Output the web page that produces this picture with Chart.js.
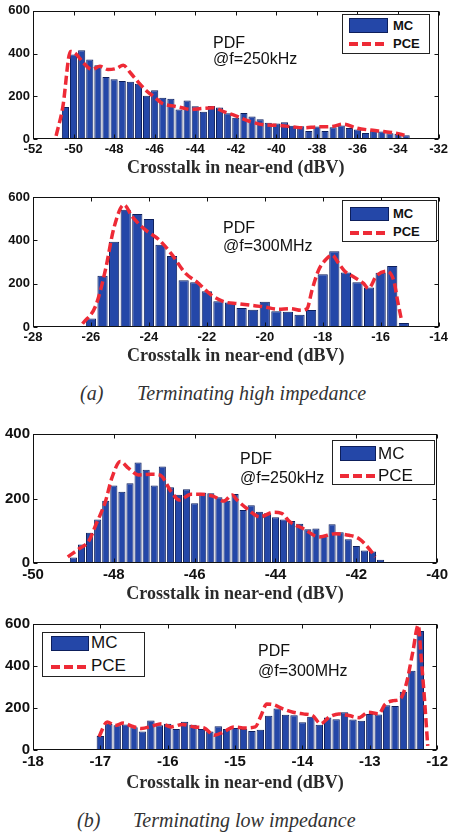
<!DOCTYPE html>
<html><head><meta charset="utf-8">
<script src="https://cdn.jsdelivr.net/npm/chart.js@4.4.1/dist/chart.umd.min.js"></script>
<style>
html,body{margin:0;padding:0;background:#fff;width:451px;height:834px;overflow:hidden;}
.panel{position:absolute;left:0;}
canvas{display:block;}
.legend{position:absolute;background:#fff;border:1px solid #222;box-sizing:border-box;font-family:"Liberation Sans",Arial,sans-serif;color:#111;}
.sw{position:absolute;background:#2447a8;border:1px solid #0d1f5c;box-sizing:border-box;}
.dash{position:absolute;height:4px;background:repeating-linear-gradient(90deg,#ee2a36 0 9px,transparent 9px 13px);}
.lt{position:absolute;height:20px;line-height:20px;white-space:nowrap;}
.note{position:absolute;font-family:"Liberation Sans",Arial,sans-serif;font-size:16px;color:#111;white-space:nowrap;}
.cap{position:absolute;font-family:"Liberation Serif","Times New Roman",serif;font-style:italic;font-size:20px;line-height:24px;color:#333;white-space:nowrap;}
</style></head><body>

<canvas id="c1" class="panel"></canvas>
<canvas id="c2" class="panel"></canvas>
<canvas id="c3" class="panel"></canvas>
<canvas id="c4" class="panel"></canvas>

<!-- legends -->
<div class="legend" style="left:342px;top:14px;width:88px;height:40px;font-size:13px;font-weight:bold;">
  <div class="sw" style="left:6px;top:3px;width:39px;height:15px;"></div>
  <div class="lt" style="left:50px;top:1px;">MC</div>
  <div class="dash" style="left:6px;top:27px;width:39px;"></div>
  <div class="lt" style="left:50px;top:19px;">PCE</div>
</div>
<div class="legend" style="left:342px;top:200px;width:95px;height:42px;font-size:13px;font-weight:bold;">
  <div class="sw" style="left:7px;top:6px;width:39px;height:14px;"></div>
  <div class="lt" style="left:50px;top:3px;">MC</div>
  <div class="dash" style="left:7px;top:30px;width:39px;"></div>
  <div class="lt" style="left:50px;top:21px;">PCE</div>
</div>
<div class="legend" style="left:332px;top:440px;width:103px;height:45px;font-size:17px;">
  <div class="sw" style="left:7px;top:5px;width:36px;height:15px;"></div>
  <div class="lt" style="left:45px;top:3px;">MC</div>
  <div class="dash" style="left:7px;top:33px;width:36px;"></div>
  <div class="lt" style="left:45px;top:25px;">PCE</div>
</div>
<div class="legend" style="left:42px;top:632px;width:103px;height:45px;font-size:17px;">
  <div class="sw" style="left:8px;top:3px;width:38px;height:15px;"></div>
  <div class="lt" style="left:48px;top:0px;">MC</div>
  <div class="dash" style="left:8px;top:32px;width:38px;"></div>
  <div class="lt" style="left:48px;top:23px;">PCE</div>
</div>

<!-- annotations -->
<div class="note" style="left:213px;top:34.7px;line-height:16.5px;">PDF<br>@f=250kHz</div>
<div class="note" style="left:223px;top:219.2px;line-height:17.5px;">PDF<br>@f=300MHz</div>
<div class="note" style="left:240px;top:450.2px;line-height:18.5px;">PDF<br>@f=250kHz</div>
<div class="note" style="left:258px;top:641.4px;line-height:20px;">PDF<br>@f=300MHz</div>

<!-- captions -->
<div class="cap" style="left:80px;top:381px;">(a)</div>
<div class="cap" style="left:137px;top:381px;">Terminating high impedance</div>
<div class="cap" style="left:77px;top:808px;">(b)</div>
<div class="cap" style="left:133px;top:808px;">Terminating low impedance</div>

<script>
// ---------- DATA ----------
// Panel 1: high impedance, f = 250 kHz
const p1Bins = [-50.8,-50.4,-50.0,-49.6,-49.2,-48.8,-48.4,-48.0,-47.6,-47.2,-46.8,-46.4,-46.0,-45.6,-45.2,-44.8,-44.4,-44.0,-43.6,-43.2,-42.8,-42.4,-42.0,-41.6,-41.2,-40.8,-40.4,-40.0,-39.6,-39.2,-38.8,-38.4,-38.0,-37.6,-37.2,-36.8,-36.4,-36.0,-35.6,-35.2,-34.8,-34.4,-34.0,-33.6];
const p1MC = [5,150,395,415,372,345,290,280,272,268,258,203,228,193,188,138,180,153,128,155,148,120,100,122,105,92,76,73,78,62,60,37,58,37,55,63,52,45,28,40,35,27,25,18];
const p1PceX = [-50.86,-50.53,-50.15,-49.9,-49.5,-49.1,-48.7,-48.3,-47.9,-47.55,-47.2,-46.8,-46.4,-46.0,-45.6,-45.1,-44.6,-44.2,-43.7,-43.1,-42.6,-42.0,-41.3,-40.6,-40.0,-39.3,-38.6,-38.0,-37.3,-36.7,-36.0,-35.4,-34.7,-34.1,-33.68];
const p1PceY = [15,150,410,400,355,325,340,325,330,345,310,265,225,195,165,155,145,138,143,146,128,108,82,66,64,58,52,57,58,70,50,42,35,27,18];

// Panel 2: high impedance, f = 300 MHz
const p2Bins = [-26.0,-25.6,-25.2,-24.8,-24.4,-24.0,-23.6,-23.2,-22.8,-22.4,-22.0,-21.6,-21.2,-20.8,-20.4,-20.0,-19.6,-19.2,-18.8,-18.4,-18.0,-17.6,-17.2,-16.8,-16.4,-16.0,-15.6,-15.2];
const p2MC = [39,237,394,541,521,499,380,328,216,206,165,119,113,88,80,116,73,70,57,79,244,350,252,206,182,250,281,19];
const p2PceX = [-26.29,-25.83,-25.49,-25.21,-24.86,-24.58,-24.12,-23.67,-23.21,-22.75,-22.30,-21.84,-21.39,-20.93,-20.47,-20.02,-19.56,-19.11,-18.75,-18.54,-18.37,-18.14,-17.85,-17.68,-17.45,-17.22,-16.94,-16.59,-16.42,-16.15,-15.80,-15.55,-15.40,-15.27];
const p2PceY = [15,100,270,456,564,510,448,405,335,250,203,147,116,108,100,93,82,85,77,85,170,263,317,332,294,255,232,201,178,235,258,215,110,25];

// Panel 3: low impedance, f = 250 kHz
const p3Bins = [-49.0,-48.8,-48.6,-48.4,-48.2,-48.0,-47.8,-47.6,-47.4,-47.2,-47.0,-46.8,-46.6,-46.4,-46.2,-46.0,-45.8,-45.6,-45.4,-45.2,-45.0,-44.8,-44.6,-44.4,-44.2,-44.0,-43.8,-43.6,-43.4,-43.2,-43.0,-42.8,-42.6,-42.4,-42.2,-42.0,-41.8,-41.6,-41.4];
const p3MC = [17,57,94,135,193,240,221,247,312,289,240,299,235,212,229,185,218,216,204,193,214,164,179,159,154,142,135,130,122,105,107,86,120,95,74,53,39,36,10];
const p3PceX = [-49.14,-48.85,-48.62,-48.45,-48.21,-48.05,-47.84,-47.64,-47.39,-47.07,-46.86,-46.58,-46.38,-46.09,-45.85,-45.52,-45.28,-45.07,-44.95,-44.71,-44.38,-44.06,-43.85,-43.65,-43.32,-42.92,-42.51,-42.18,-41.94,-41.69,-41.53];
const p3PceY = [19,45,68,117,190,263,315,294,273,275,273,221,195,213,213,206,192,211,195,169,143,157,154,128,107,81,91,86,76,45,19];

// Panel 4: low impedance, f = 300 MHz
const p4Bins = [-17.125,-17.0,-16.875,-16.75,-16.625,-16.5,-16.375,-16.25,-16.125,-16.0,-15.875,-15.75,-15.625,-15.5,-15.375,-15.25,-15.125,-15.0,-14.875,-14.75,-14.625,-14.5,-14.375,-14.25,-14.125,-14.0,-13.875,-13.75,-13.625,-13.5,-13.375,-13.25,-13.125,-13.0,-12.875,-12.75,-12.625,-12.5,-12.375,-12.25,-12.125];
const p4MC = [3,67,125,118,121,108,88,140,118,125,100,135,120,100,88,113,100,105,100,90,97,163,198,168,165,132,158,120,155,147,180,145,139,171,169,213,210,277,377,567,5];
const p4PceX = [-17.02,-16.90,-16.78,-16.66,-16.53,-16.39,-16.24,-16.09,-15.95,-15.78,-15.61,-15.46,-15.31,-15.17,-15.02,-14.85,-14.70,-14.62,-14.53,-14.43,-14.29,-14.14,-13.99,-13.85,-13.73,-13.60,-13.46,-13.31,-13.16,-13.02,-12.87,-12.77,-12.65,-12.55,-12.46,-12.36,-12.28,-12.24,-12.19,-12.14];
const p4PceY = [63,133,117,128,113,102,113,125,110,122,110,105,70,86,110,105,110,160,219,216,196,180,172,164,125,157,172,164,154,180,172,219,235,243,313,470,595,450,250,20];

// axis ranges / ticks
const xRanges = [[-52,-32,2],[-28,-14,2],[-50,-40,2],[-18,-12,1]];
const yRanges = [[0,600,200],[0,600,200],[0,400,200],[0,600,200]];
const xTitle = 'Crosstalk in near-end (dBV)';

// ---------- LAYOUT ----------
const layouts = [
  {id:'c1', T:0,   top:10,  bottom:139, title:168, tickSize:13},
  {id:'c2', T:185, top:197, bottom:327, title:356, tickSize:13},
  {id:'c3', T:420, top:434, bottom:563, title:594, tickSize:15},
  {id:'c4', T:612, top:622, bottom:750, title:783, tickSize:15}
];
const LEFT = 33, RIGHT_PAD = 8, TITLE_SIZE = 18, TITLE_LH = 1.2;

Chart.defaults.font.family = '"Liberation Sans", Arial, sans-serif';

const framePlugin = {
  id: 'frame',
  afterDatasetsDraw(chart) {
    const {ctx, chartArea: a} = chart;
    const x = chart.scales.x, y = chart.scales.y;
    ctx.save();
    ctx.strokeStyle = '#111';
    ctx.lineWidth = 1;
    const l = Math.round(a.left) + 0.5, r = Math.round(a.right) - 0.5;
    const t = Math.round(a.top) + 0.5, b = Math.round(a.bottom) - 0.5;
    ctx.strokeRect(l, t, r - l, b - t);
    const L = 4;
    ctx.beginPath();
    x.ticks.forEach(tk => {
      const px = Math.round(x.getPixelForValue(tk.value)) + 0.5;
      ctx.moveTo(px, t); ctx.lineTo(px, t + L);
      ctx.moveTo(px, b); ctx.lineTo(px, b - L);
    });
    y.ticks.forEach(tk => {
      const py = Math.round(y.getPixelForValue(tk.value)) + 0.5;
      ctx.moveTo(l, py); ctx.lineTo(l + L, py);
      ctx.moveTo(r, py); ctx.lineTo(r - L, py);
    });
    ctx.stroke();
    ctx.restore();
  }
};

const series = [
  [p1Bins, p1MC, p1PceX, p1PceY],
  [p2Bins, p2MC, p2PceX, p2PceY],
  [p3Bins, p3MC, p3PceX, p3PceY],
  [p4Bins, p4MC, p4PceX, p4PceY]
];

layouts.forEach((L, i) => {
  const [bins, mc, px, py] = series[i];
  const titleOffset = TITLE_SIZE * TITLE_LH / 2;
  const xHeight = L.title - L.bottom + titleOffset;
  const H = Math.ceil(L.bottom - L.T + xHeight);
  const padBottom = H - (L.bottom - L.T) - xHeight;
  const cv = document.getElementById(L.id);
  cv.width = 451; cv.height = H;
  cv.style.width = '451px'; cv.style.height = H + 'px';
  cv.style.top = L.T + 'px';
  const [xmin, xmax, xstep] = xRanges[i];
  const [ymin, ymax, ystep] = yRanges[i];
  const tickFont = {size: L.tickSize, weight: 'bold'};

  new Chart(cv, {
    type: 'bar',
    data: {
      datasets: [
        {
          type: 'line', label: 'PCE', order: 0,
          data: px.map((v, k) => ({x: v, y: py[k]})),
          borderColor: '#ee2a36', borderWidth: 3.5, borderDash: [9, 4],
          pointRadius: 0, fill: false, cubicInterpolationMode: 'monotone'
        },
        {
          type: 'bar', label: 'MC', order: 1,
          data: bins.map((v, k) => ({x: v, y: mc[k]})),
          backgroundColor: '#2447a8', borderColor: '#0d1f5c', borderWidth: 1,
          barPercentage: 0.88, categoryPercentage: 1.0
        }
      ]
    },
    options: {
      responsive: false, animation: false, devicePixelRatio: 1,
      layout: {padding: {left: 0, right: RIGHT_PAD, top: L.top - L.T, bottom: padBottom}},
      plugins: {legend: {display: false}, tooltip: {enabled: false}},
      scales: {
        x: {
          type: 'linear', min: xmin, max: xmax, offset: false,
          grid: {display: false, drawTicks: false}, border: {display: false},
          ticks: {stepSize: xstep, padding: 3, color: '#111', font: tickFont, maxRotation: 0, autoSkip: false},
          title: {display: true, text: xTitle, color: '#2a2a2a',
                  font: {family: '"Liberation Serif", "Times New Roman", serif', size: TITLE_SIZE, weight: 'bold', lineHeight: TITLE_LH},
                  padding: {top: 0, bottom: 0}},
          afterFit(s) { s.height = xHeight; }
        },
        y: {
          min: ymin, max: ymax,
          grid: {display: false, drawTicks: false}, border: {display: false},
          ticks: {stepSize: ystep, padding: 3, color: '#111', font: tickFont},
          afterFit(s) { s.width = LEFT; }
        }
      }
    },
    plugins: [framePlugin]
  });
});
</script>
</body></html>
